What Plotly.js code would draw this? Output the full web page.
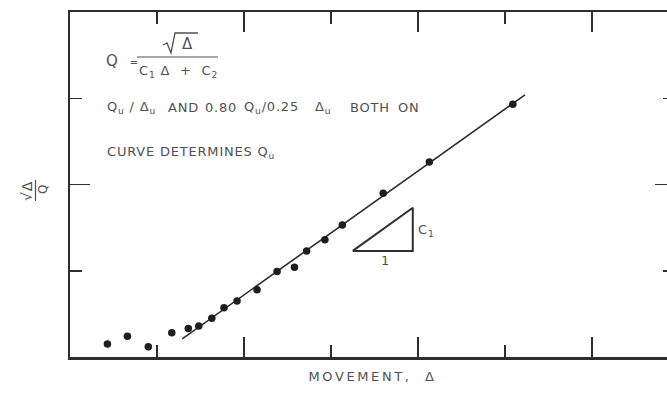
<!DOCTYPE html>
<html>
<head>
<meta charset="utf-8">
<script src="https://cdn.plot.ly/plotly-3.0.1.min.js"></script>
<style>
  html, body { margin: 0; padding: 0; overflow: hidden; background: #fff; }
  #chart { width: 680px; height: 394px; }
  text.annotation-text { letter-spacing: 0.8px; }
  text.xtitle { letter-spacing: 2.6px; }
</style>
</head>
<body>
<div id="chart"></div>
<script>
// Measured points: movement (Δ) against √Δ/Q, arbitrary units
const movement = [0.43, 0.66, 0.90, 1.17, 1.36, 1.48, 1.63, 1.77, 1.92, 2.15,
                  2.38, 2.58, 2.72, 2.93, 3.13, 3.60, 4.13, 5.09];
const ratio    = [0.15, 0.24, 0.12, 0.28, 0.33, 0.36, 0.45, 0.57, 0.65, 0.78,
                  0.99, 1.04, 1.23, 1.36, 1.53, 1.90, 2.26, 2.93];

// Fitted straight line, slope C1
const fitX = [1.29, 5.23];
const fitY = [0.21, 3.04];

// Slope triangle: run of 1, rise of C1
const triX = [3.25, 3.94, 3.94, 3.25];
const triY = [1.23, 1.23, 1.73, 1.23];

const ink = '#2e2e2e';
const textInk = '#505050';
const face = 'DejaVu Sans, Liberation Sans, sans-serif';

// Figure geometry (pixels)
const W = 680, H = 394;
const M = { l: 70, r: 5, t: 12, b: 37 };
const plotW = W - M.l - M.r, plotH = H - M.t - M.b;
// pixel position in the figure -> paper fraction of the plot area
const fx = (X) => (X - M.l) / plotW;
const fy = (Y) => (H - M.b - Y) / plotH;

const traces = [
  { x: fitX, y: fitY, mode: 'lines', line: { color: ink, width: 1.6 }, hoverinfo: 'skip' },
  { x: triX, y: triY, mode: 'lines', line: { color: ink, width: 2 }, hoverinfo: 'skip' },
  { x: movement, y: ratio, mode: 'markers',
    marker: { color: '#1e1e1e', size: 7.5 } }
];

const axisCommon = {
  showline: true, linewidth: 2.5, linecolor: ink, mirror: 'ticks',
  ticks: 'inside', ticklen: 20, tickwidth: 1.5, tickcolor: ink,
  tick0: 0, dtick: 2, showticklabels: false,
  showgrid: false, zeroline: false, fixedrange: true,
  minor: { ticks: 'inside', ticklen: 12, tickwidth: 1.5, tickcolor: ink,
           tick0: 0, dtick: 1, showgrid: false }
};

const f = (size) => ({ family: face, size: size, color: textInk });
// text placed by figure pixel position
const label = (X, Y, text, size, xanchor, extra) => Object.assign({
  x: fx(X), y: fy(Y), xref: 'paper', yref: 'paper', text: text, showarrow: false,
  xanchor: xanchor || 'left', yanchor: 'middle', font: f(size)
}, extra || {});

const pathOf = (pts) => pts.map((p, i) => (i ? 'L' : 'M') + fx(p[0]) + ',' + fy(p[1])).join(' ');
const stroke = (pts, w) => ({ type: 'path', xref: 'paper', yref: 'paper', path: pathOf(pts),
  line: { color: textInk, width: w || 1.2 } });

// second note line, word groups with their left edges
const noteWords = ['Q<sub>u</sub> / Δ<sub>u</sub>', 'AND', '0.80', 'Q<sub>u</sub>/0.25', 'Δ<sub>u</sub>', 'BOTH', 'ON'];
const noteLeft  = [105, 166, 203, 242, 313, 348, 396];

const layout = {
  width: W, height: H,
  margin: M,
  paper_bgcolor: '#fff', plot_bgcolor: '#fff',
  showlegend: false,
  xaxis: Object.assign({}, axisCommon, {
    range: [0, plotW / 87],
    title: { text: 'MOVEMENT,  Δ', font: f(13), standoff: 14 }
  }),
  yaxis: Object.assign({}, axisCommon, { range: [0, 4] }),
  annotations: [
    // Q = √Δ / (C1 Δ + C2)
    label(104, 61, 'Q  <span style="font-size:10px">=</span>', 15),
    label(187, 44, 'Δ', 15, 'center'),
    label(178, 71, 'C<sub>1</sub> Δ  +  C<sub>2</sub>', 13, 'center'),
    ...noteWords.map((w, i) => label(noteLeft[i], 108, w, 13)),
    label(105, 152, 'CURVE DETERMINES Q<sub>u</sub>', 13),
    label(416, 230, 'C<sub>1</sub>', 13),
    label(385, 260, '1', 13, 'center'),
    // vertical axis label √Δ over Q, turned on its side
    label(27, 191, '√Δ', 14, 'center', { textangle: -90 }),
    label(43, 189, 'Q', 12, 'center', { textangle: -90 })
  ],
  shapes: [
    // fraction bar, radical sign with its overline
    stroke([[137, 57], [218, 57]]),
    stroke([[163, 45], [167, 43], [171, 53], [175, 33], [198, 33]], 1.3),
    // bar of the vertical axis label
    stroke([[35.5, 180], [35.5, 201]])
  ]
};

Plotly.newPlot('chart', traces, layout, { displayModeBar: false, staticPlot: true });
</script>
</body>
</html>
